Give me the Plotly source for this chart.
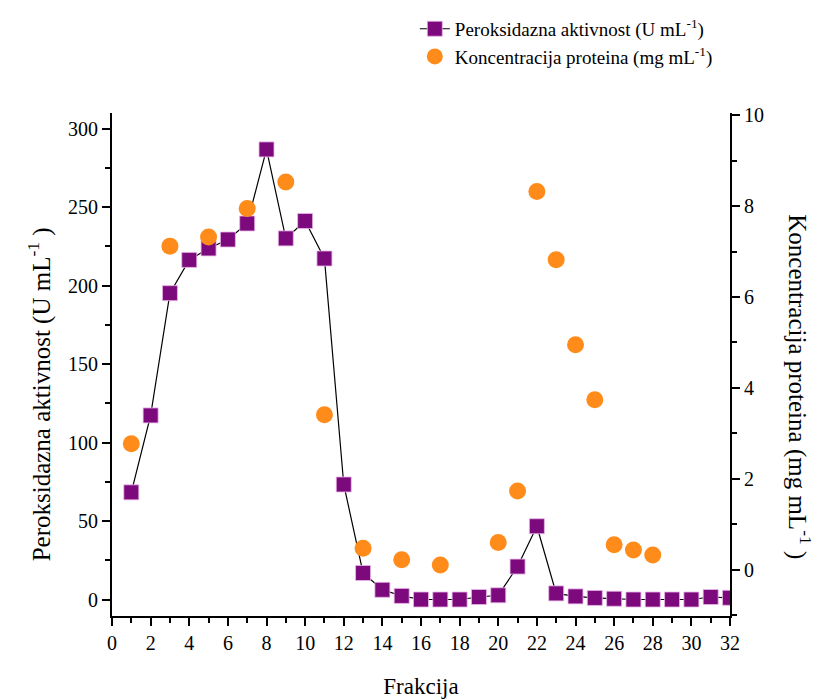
import plotly.graph_objects as go

fractions = list(range(1, 33))
peroxidase = [68.3, 117.3, 195.2, 216.4, 223.7, 229.4, 239.6, 286.8, 230.1, 241.2,
              217.3, 73.3, 16.9, 6.2, 2.3, 0.0, 0.0, 0.0, 1.6, 2.7,
              21.0, 46.7, 3.9, 2.0, 1.0, 0.5, 0.0, 0.0, 0.0, 0.0, 1.6, 1.1]
protein_x = [1, 3, 5, 7, 9, 11, 13, 15, 17, 20, 21, 22, 23, 24, 25, 26, 27, 28]
protein = [2.77, 7.12, 7.32, 7.95, 8.53, 3.41, 0.47, 0.22, 0.10, 0.60,
           1.73, 8.32, 6.82, 4.95, 3.74, 0.55, 0.43, 0.32]

x_ticks = list(range(0, 33, 2))
left_ticks = [0, 50, 100, 150, 200, 250, 300]
right_ticks = [0, 2, 4, 6, 8, 10]

FONT = "Times New Roman"
PURPLE = "#7D0A7D"
ORANGE = "#FF8C1A"

fig = go.Figure()
fig.add_trace(go.Scatter(
    x=fractions, y=peroxidase, mode="lines+markers",
    name="Peroksidazna aktivnost (U mL<sup>-1</sup>)", legendgroup="a",
    line=dict(color="black", width=1.2),
    marker=dict(symbol="square", size=15, color=PURPLE, line=dict(color="#E9B8E9", width=0.8)),
    yaxis="y"))
fig.add_trace(go.Scatter(
    x=protein_x, y=protein, mode="markers",
    name="Koncentracija proteina (mg mL<sup>-1</sup>)", legendgroup="b",
    marker=dict(symbol="circle", size=17, color=ORANGE, line=dict(width=0)),
    yaxis="y2"))

axis_common = dict(showline=True, linecolor="black", linewidth=2, ticks="outside",
                   ticklen=8, tickwidth=2, tickcolor="black", showgrid=False, zeroline=False,
                   tickfont=dict(family=FONT, size=20, color="black"),
                   mirror=False)

fig.update_layout(
    width=813, height=692,
    margin=dict(l=104, r=91, t=105, b=84, autoexpand=False),
    paper_bgcolor="white", plot_bgcolor="white",
    font=dict(family=FONT, color="black"),
    xaxis=dict(range=[0, 32], tickvals=x_ticks,
               minor=dict(ticks="outside", ticklen=5, tickwidth=2, tickcolor="black", dtick=1),
               title=dict(text="Frakcija", font=dict(family=FONT, size=23), standoff=25),
               **axis_common),
    yaxis=dict(range=[-10.5, 310], tickvals=left_ticks,
               minor=dict(ticks="outside", ticklen=5, tickwidth=2, tickcolor="black", dtick=25, tick0=0),
               **axis_common),
    yaxis2=dict(range=[-1.02, 10.05], tickvals=right_ticks, overlaying="y", side="right",
                minor=dict(ticks="outside", ticklen=5, tickwidth=2, tickcolor="black", dtick=1, tick0=0),
                **axis_common),
    legend=dict(x=0.49, y=1.205, xanchor="left", yanchor="top",
                font=dict(family=FONT, size=19, color="black"),
                bgcolor="rgba(0,0,0,0)", tracegroupgap=0, itemwidth=30),
    showlegend=True,
    annotations=[
        dict(text="Peroksidazna aktivnost (U mL<sup>-1</sup> )", textangle=-90,
             xref="paper", yref="paper", x=-0.117, y=0.44, xanchor="center", yanchor="middle",
             showarrow=False, font=dict(family=FONT, size=25, color="black")),
        dict(text="Koncentracija proteina (mg mL<sup>-1</sup> )", textangle=90,
             xref="paper", yref="paper", x=1.113, y=0.455, xanchor="center", yanchor="middle",
             showarrow=False, font=dict(family=FONT, size=25, color="black")),
    ],
)

fig.write_html("out.html")
